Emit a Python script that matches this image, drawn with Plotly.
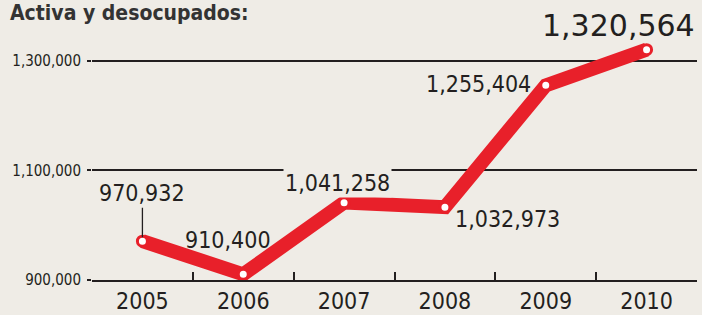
import plotly.graph_objects as go

years = ["2005", "2006", "2007", "2008", "2009", "2010"]
values = [970932, 910400, 1041258, 1032973, 1255404, 1320564]
labels = ["970,932", "910,400", "1,041,258", "1,032,973", "1,255,404", "1,320,564"]
ytick_vals = [900000, 1100000, 1300000]
ytick_text = ["900,000", "1,100,000", "1,300,000"]
title_text = "Activa y desocupados:"

BG = "#efece6"
RED = "#e8202a"
INK = "#231f20"
NARROW = "Liberation Sans Narrow, DejaVu Sans Condensed, Arial Narrow, sans-serif"

fig = go.Figure()
fig.add_trace(go.Scatter(
    x=years, y=values, mode="lines+markers",
    line=dict(color=RED, width=14),
    marker=dict(size=10, color="white", line=dict(color=RED, width=3)),
    hoverinfo="skip", showlegend=False, cliponaxis=False,
))

# label offsets (xshift, yshift) in pixels
label_style = [
    dict(xshift=0, yshift=0),
    dict(xshift=-15, yshift=34),
    dict(xshift=-7, yshift=20),
    dict(xshift=63, yshift=-12),
    dict(xshift=-67, yshift=1),
    dict(xshift=-28, yshift=24),
]
for i, (v, t) in enumerate(zip(values, labels)):
    st = label_style[i]
    common = dict(x=i, y=v, xref="x", yref="y", text=t)
    if i == 0:
        fig.add_annotation(**common, showarrow=True, arrowhead=0,
                           arrowwidth=1.3, arrowcolor=INK, ax=0, ay=-48,
                           standoff=4,
                           font=dict(family=NARROW, size=23, color=INK))
    elif i == 5:
        fig.add_annotation(**common, showarrow=False,
                           xshift=st["xshift"], yshift=st["yshift"],
                           font=dict(family="DejaVu Sans", size=30, color=INK))
    else:
        kw = dict(bgcolor=BG) if i == 2 else {}
        fig.add_annotation(**common, showarrow=False,
                           xshift=st["xshift"], yshift=st["yshift"], **kw,
                           font=dict(family=NARROW, size=23, color=INK))

fig.add_annotation(xref="paper", yref="paper", x=-92/605, y=(280 - 13) / 241,
                   xanchor="left", yanchor="middle", xshift=8, showarrow=False,
                   text="<b>" + title_text + "</b>",
                   font=dict(family=NARROW, size=21, color="#333333"))

fig.update_layout(
    width=702, height=315,
    margin=dict(l=92, r=5, t=39, b=35, autoexpand=False),
    paper_bgcolor=BG, plot_bgcolor=BG,
    xaxis=dict(
        type="category", range=[-0.5, 5.5], automargin=False,
        showline=True, linecolor=INK, linewidth=1.5,
        ticks="inside", tickson="boundaries", ticklen=8, tickwidth=1.5, tickcolor=INK,
        showgrid=False, zeroline=False,
        tickfont=dict(family=NARROW, size=23, color=INK),
    ),
    yaxis=dict(
        range=[900000, 1340000], automargin=False,
        tickvals=ytick_vals, ticktext=ytick_text,
        showgrid=True, gridcolor=INK, gridwidth=1.5,
        ticks="outside", ticklen=4, tickwidth=1.5, tickcolor=INK,
        ticklabelstandoff=3,
        zeroline=False, showline=False,
        tickfont=dict(family=NARROW, size=15, color=INK),
    ),
)

fig.write_html("out.html", config={"displayModeBar": False},
               post_script="document.body.style.margin='0';document.body.style.background='%s';" % BG)
